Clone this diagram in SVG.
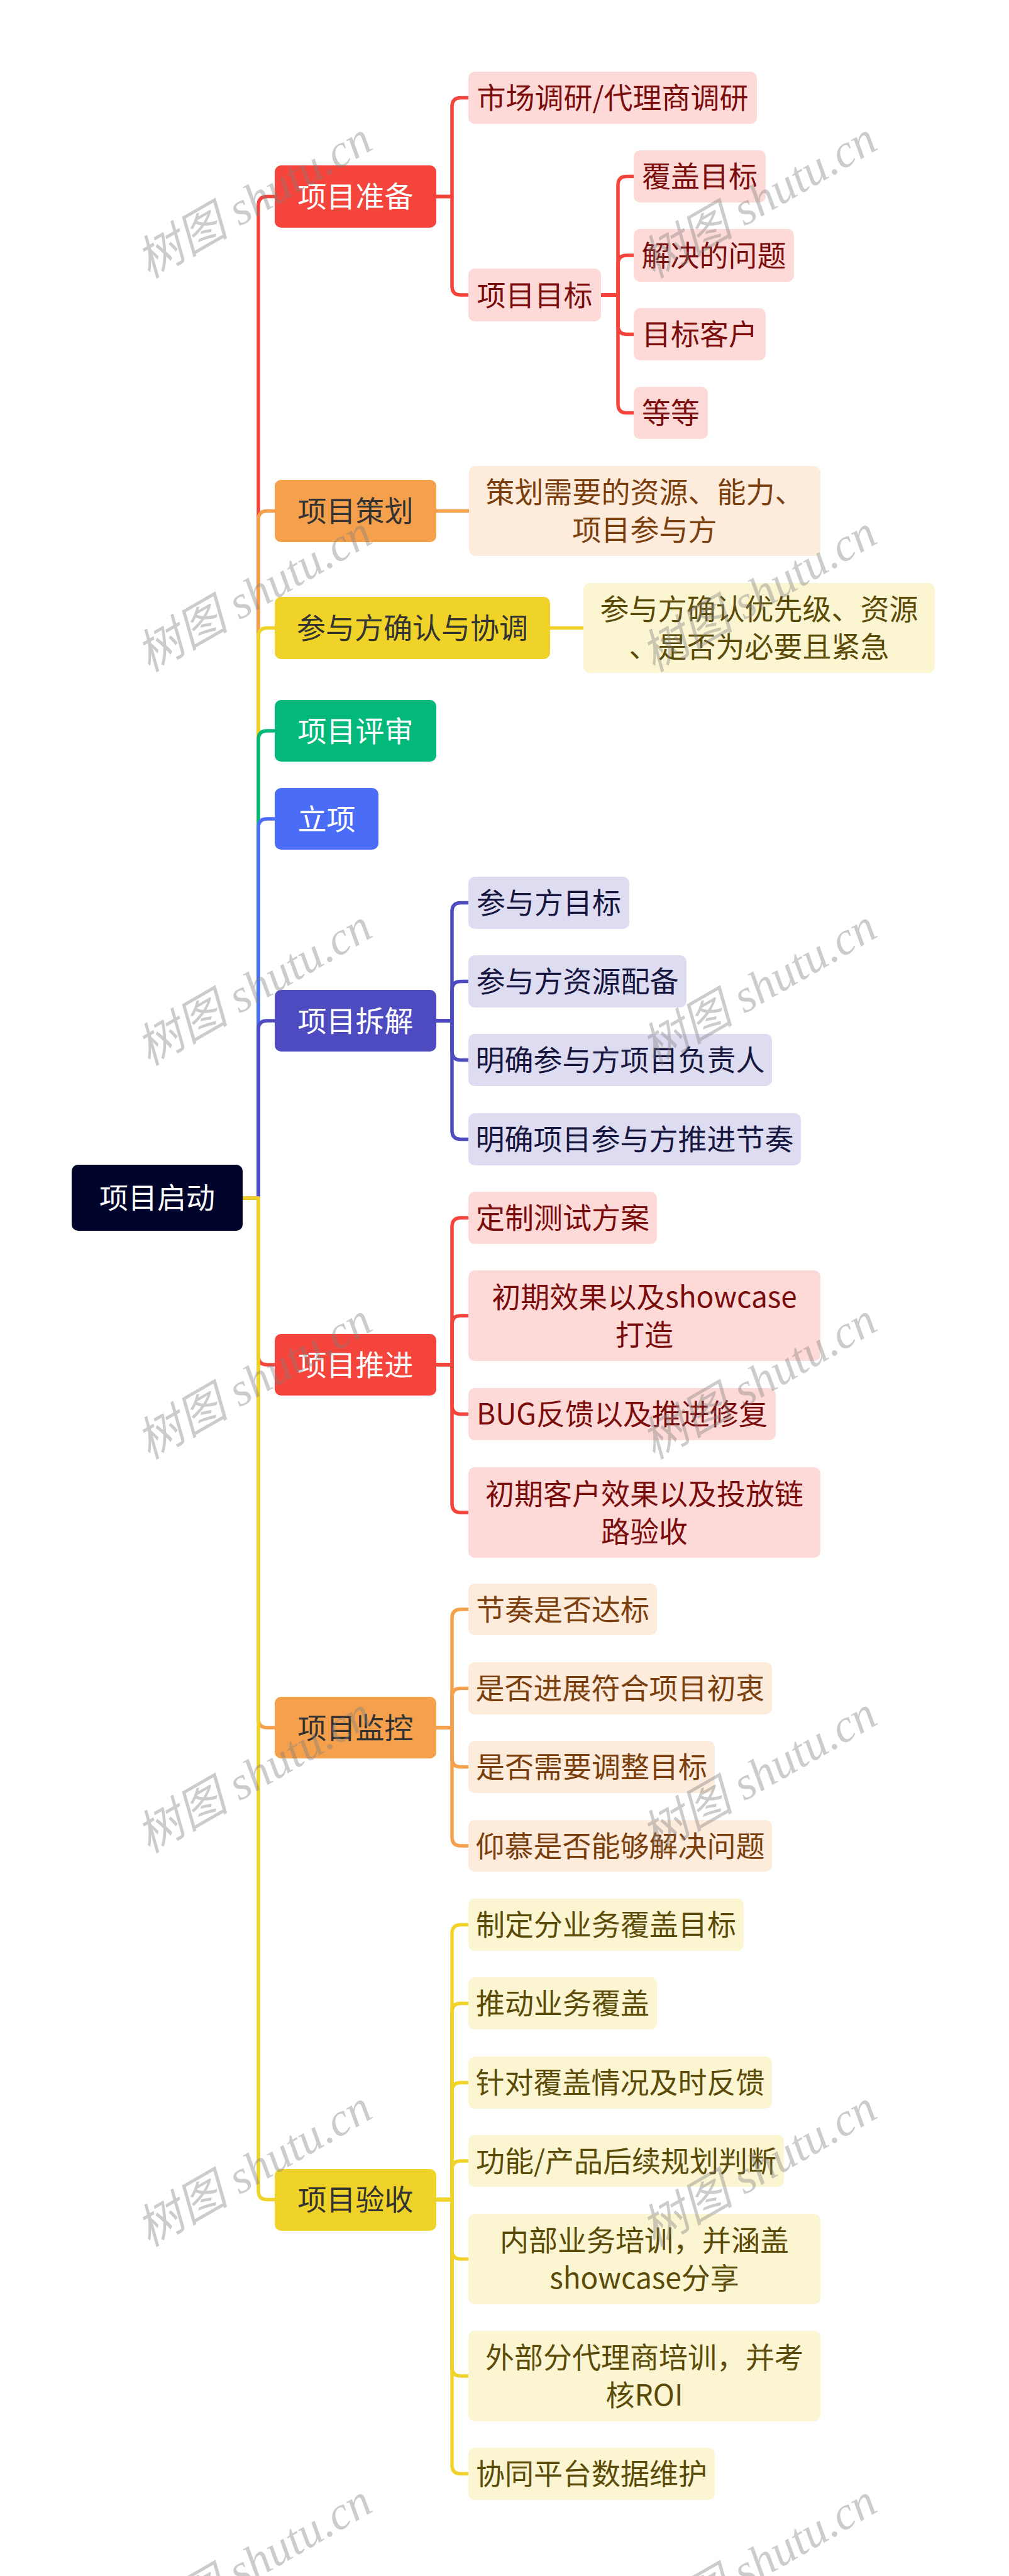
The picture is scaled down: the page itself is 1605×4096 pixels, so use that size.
<svg xmlns="http://www.w3.org/2000/svg" width="1605" height="4096" viewBox="0 0 1605 4096">
<style>
.t{font-family:"Noto Sans CJK SC","Noto Sans",sans-serif;font-size:46px;text-anchor:middle}
.w{fill:#fff}.dk{fill:#333333}
.lr{fill:#7b0c0c}.lo{fill:#7a3f0d}.ly{fill:#5b4b08}.li{fill:#17163f}
.c{fill:none;stroke-width:5.5;stroke-linecap:round;stroke-linejoin:round}
.cr{stroke:#f5443b}.co{stroke:#f4a04c}.cy{stroke:#f0d328}.cg{stroke:#02b97b}.cb{stroke:#4a6cf7}.ci{stroke:#4d4bbf}
.nr{fill:#f5443b}.no{fill:#f4a04c}.ny{fill:#f0d328}.ng{fill:#02b97b}.nb{fill:#4a6cf7}.ni{fill:#4d4bbf}
.pr{fill:#fddad8}.po{fill:#fdebdc}.py{fill:#fbf5d2}.pi{fill:#dedcf1}
.wm{font-family:"Liberation Serif","Noto Sans CJK SC",serif;font-style:italic;font-size:74px;fill:#808080;fill-opacity:0.4;text-anchor:middle}
</style>
<rect width="1605" height="4096" fill="#fff"/>
<g id="connectors">
<path class="c cr" d="M386 1905H411V326.5Q411 312.5 425 312.5H440"/>
<path class="c co" d="M386 1905H411V826.5Q411 812.5 425 812.5H440"/>
<path class="c cy" d="M386 1905H411V1012.5Q411 998.5 425 998.5H440"/>
<path class="c cg" d="M386 1905H411V1176Q411 1162 425 1162H440"/>
<path class="c cb" d="M386 1905H411V1316Q411 1302 425 1302H440"/>
<path class="c ci" d="M386 1905H411V1637Q411 1623 425 1623H440"/>
<path class="c cr" d="M386 1905H411V2156Q411 2170 425 2170H440"/>
<path class="c co" d="M386 1905H411V2733Q411 2747 425 2747H440"/>
<path class="c cy" d="M386 1905H411V3483.5Q411 3497.5 425 3497.5H440"/>
<path class="c cr" d="M694 312.5H719V169.5Q719 155.5 733 155.5H748"/>
<path class="c cr" d="M694 312.5H719V455Q719 469 733 469H748"/>
<path class="c cr" d="M956 469H983V294.5Q983 280.5 997 280.5H1011"/>
<path class="c cr" d="M956 469H983V420Q983 406 997 406H1011"/>
<path class="c cr" d="M956 469H983V517.5Q983 531.5 997 531.5H1011"/>
<path class="c cr" d="M956 469H983V642.5Q983 656.5 997 656.5H1011"/>
<path class="c co" d="M694 812.5H749"/>
<path class="c cy" d="M875 998.5H931"/>
<path class="c ci" d="M694 1623H719V1449.5Q719 1435.5 733 1435.5H748"/>
<path class="c ci" d="M694 1623H719V1574.5Q719 1560.5 733 1560.5H748"/>
<path class="c ci" d="M694 1623H719V1671.5Q719 1685.5 733 1685.5H748"/>
<path class="c ci" d="M694 1623H719V1797.5Q719 1811.5 733 1811.5H748"/>
<path class="c cr" d="M694 2170H719V1950.5Q719 1936.5 733 1936.5H748"/>
<path class="c cr" d="M694 2170H719V2106Q719 2092 733 2092H748"/>
<path class="c cr" d="M694 2170H719V2234.5Q719 2248.5 733 2248.5H748"/>
<path class="c cr" d="M694 2170H719V2391Q719 2405 733 2405H748"/>
<path class="c co" d="M694 2747H719V2573Q719 2559 733 2559H748"/>
<path class="c co" d="M694 2747H719V2698.5Q719 2684.5 733 2684.5H748"/>
<path class="c co" d="M694 2747H719V2795.5Q719 2809.5 733 2809.5H748"/>
<path class="c co" d="M694 2747H719V2921Q719 2935 733 2935H748"/>
<path class="c cy" d="M694 3497.5H719V3074.5Q719 3060.5 733 3060.5H748"/>
<path class="c cy" d="M694 3497.5H719V3199.5Q719 3185.5 733 3185.5H748"/>
<path class="c cy" d="M694 3497.5H719V3325.5Q719 3311.5 733 3311.5H748"/>
<path class="c cy" d="M694 3497.5H719V3450Q719 3436 733 3436H748"/>
<path class="c cy" d="M694 3497.5H719V3578Q719 3592 733 3592H748"/>
<path class="c cy" d="M694 3497.5H719V3764Q719 3778 733 3778H748"/>
<path class="c cy" d="M694 3497.5H719V3919.5Q719 3933.5 733 3933.5H748"/>
</g>

<g id="root"><rect x="114" y="1852" width="272" height="105" rx="10" fill="#00032a"/><text class="t w" x="250" y="1921">项目启动</text></g>

<g id="n-zhunbei"><rect class="nr" x="437" y="263" width="257" height="99" rx="10"/><text class="t w" x="565.5" y="329">项目准备</text></g>
<g id="n-shichang"><rect class="pr" x="745" y="114" width="459" height="83" rx="10"/><text class="t lr" x="974.5" y="172">市场调研/代理商调研</text></g>
<g id="n-mubiao"><rect class="pr" x="745" y="427" width="211" height="84" rx="10"/><text class="t lr" x="850.5" y="485.5">项目目标</text></g>
<g id="n-fugai"><rect class="pr" x="1008" y="239" width="210" height="83" rx="10"/><text class="t lr" x="1113" y="297">覆盖目标</text></g>
<g id="n-jiejue"><rect class="pr" x="1008" y="364" width="255" height="84" rx="10"/><text class="t lr" x="1135.5" y="422.5">解决的问题</text></g>
<g id="n-kehu"><rect class="pr" x="1008" y="490" width="210" height="83" rx="10"/><text class="t lr" x="1113" y="548">目标客户</text></g>
<g id="n-dengdeng"><rect class="pr" x="1008" y="615" width="118" height="83" rx="10"/><text class="t lr" x="1067" y="673">等等</text></g>

<g id="n-cehua"><rect class="no" x="437" y="763" width="257" height="99" rx="10"/><text class="t dk" x="565.5" y="829">项目策划</text></g>
<g id="n-cehua-1"><rect class="po" x="746" y="741" width="559" height="143" rx="10"/><text class="t lo" x="1025.5" y="799">策划需要的资源、能力、</text><text class="t lo" x="1025.5" y="859">项目参与方</text></g>

<g id="n-canyu"><rect class="ny" x="437" y="949" width="438" height="99" rx="10"/><text class="t dk" x="656" y="1015">参与方确认与协调</text></g>
<g id="n-canyu-1"><rect class="py" x="928" y="927" width="559" height="143" rx="10"/><text class="t ly" x="1207.5" y="985">参与方确认优先级、资源</text><text class="t ly" x="1207.5" y="1045">、是否为必要且紧急</text></g>

<g id="n-pingshen"><rect class="ng" x="437" y="1113" width="257" height="98" rx="10"/><text class="t w" x="565.5" y="1178.5">项目评审</text></g>
<g id="n-lixiang"><rect class="nb" x="437" y="1253" width="165" height="98" rx="10"/><text class="t w" x="519.5" y="1318.5">立项</text></g>

<g id="n-chaijie"><rect class="ni" x="437" y="1574" width="257" height="98" rx="10"/><text class="t w" x="565.5" y="1639.5">项目拆解</text></g>
<g id="n-cj1"><rect class="pi" x="745" y="1394" width="256" height="83" rx="10"/><text class="t li" x="873" y="1452">参与方目标</text></g>
<g id="n-cj2"><rect class="pi" x="745" y="1519" width="347" height="83" rx="10"/><text class="t li" x="918.5" y="1577">参与方资源配备</text></g>
<g id="n-cj3"><rect class="pi" x="745" y="1644" width="483" height="83" rx="10"/><text class="t li" x="986.5" y="1702">明确参与方项目负责人</text></g>
<g id="n-cj4"><rect class="pi" x="745" y="1770" width="529" height="83" rx="10"/><text class="t li" x="1009.5" y="1828">明确项目参与方推进节奏</text></g>

<g id="n-tuijin"><rect class="nr" x="437" y="2121" width="257" height="98" rx="10"/><text class="t w" x="565.5" y="2186.5">项目推进</text></g>
<g id="n-tj1"><rect class="pr" x="745" y="1895" width="300" height="83" rx="10"/><text class="t lr" x="895" y="1953">定制测试方案</text></g>
<g id="n-tj2"><rect class="pr" x="745" y="2020" width="560" height="144" rx="10"/><text class="t lr" x="1025" y="2078.5">初期效果以及showcase</text><text class="t lr" x="1025" y="2138.5">打造</text></g>
<g id="n-tj3"><rect class="pr" x="745" y="2207" width="489" height="83" rx="10"/><text class="t lr" x="989.5" y="2265">BUG反馈以及推进修复</text></g>
<g id="n-tj4"><rect class="pr" x="745" y="2333" width="560" height="144" rx="10"/><text class="t lr" x="1025" y="2391.5">初期客户效果以及投放链</text><text class="t lr" x="1025" y="2451.5">路验收</text></g>

<g id="n-jiankong"><rect class="no" x="437" y="2698" width="257" height="98" rx="10"/><text class="t dk" x="565.5" y="2763.5">项目监控</text></g>
<g id="n-jk1"><rect class="po" x="745" y="2518" width="300" height="82" rx="10"/><text class="t lo" x="895" y="2575.5">节奏是否达标</text></g>
<g id="n-jk2"><rect class="po" x="745" y="2643" width="483" height="83" rx="10"/><text class="t lo" x="986.5" y="2701">是否进展符合项目初衷</text></g>
<g id="n-jk3"><rect class="po" x="745" y="2768" width="392" height="83" rx="10"/><text class="t lo" x="941" y="2826">是否需要调整目标</text></g>
<g id="n-jk4"><rect class="po" x="745" y="2894" width="483" height="82" rx="10"/><text class="t lo" x="986.5" y="2951.5">仰慕是否能够解决问题</text></g>

<g id="n-yanshou"><rect class="ny" x="437" y="3449" width="257" height="98" rx="10"/><text class="t dk" x="565.5" y="3514">项目验收</text></g>
<g id="n-ys1"><rect class="py" x="745" y="3019" width="438" height="83" rx="10"/><text class="t ly" x="964" y="3077">制定分业务覆盖目标</text></g>
<g id="n-ys2"><rect class="py" x="745" y="3144" width="300" height="83" rx="10"/><text class="t ly" x="895" y="3202">推动业务覆盖</text></g>
<g id="n-ys3"><rect class="py" x="745" y="3270" width="483" height="83" rx="10"/><text class="t ly" x="986.5" y="3328">针对覆盖情况及时反馈</text></g>
<g id="n-ys4"><rect class="py" x="745" y="3395" width="502" height="82" rx="10"/><text class="t ly" x="996" y="3452.5">功能/产品后续规划判断</text></g>
<g id="n-ys5"><rect class="py" x="745" y="3520" width="560" height="144" rx="10"/><text class="t ly" x="1025" y="3578.5">内部业务培训，并涵盖</text><text class="t ly" x="1025" y="3638.5">showcase分享</text></g>
<g id="n-ys6"><rect class="py" x="745" y="3706" width="560" height="144" rx="10"/><text class="t ly" x="1025" y="3764.5">外部分代理商培训，并考</text><text class="t ly" x="1025" y="3824.5">核ROI</text></g>
<g id="n-ys7"><rect class="py" x="745" y="3892" width="392" height="83" rx="10"/><text class="t ly" x="941" y="3950">协同平台数据维护</text></g>

<g id="watermarks">
<text class="wm" x="404" y="343" transform="rotate(-30 404 318)">树图 shutu.cn</text>
<text class="wm" x="1207" y="343" transform="rotate(-30 1207 318)">树图 shutu.cn</text>
<text class="wm" x="404" y="969" transform="rotate(-30 404 944)">树图 shutu.cn</text>
<text class="wm" x="1207" y="969" transform="rotate(-30 1207 944)">树图 shutu.cn</text>
<text class="wm" x="404" y="1595" transform="rotate(-30 404 1570)">树图 shutu.cn</text>
<text class="wm" x="1207" y="1595" transform="rotate(-30 1207 1570)">树图 shutu.cn</text>
<text class="wm" x="404" y="2221" transform="rotate(-30 404 2196)">树图 shutu.cn</text>
<text class="wm" x="1207" y="2221" transform="rotate(-30 1207 2196)">树图 shutu.cn</text>
<text class="wm" x="404" y="2847" transform="rotate(-30 404 2822)">树图 shutu.cn</text>
<text class="wm" x="1207" y="2847" transform="rotate(-30 1207 2822)">树图 shutu.cn</text>
<text class="wm" x="404" y="3473" transform="rotate(-30 404 3448)">树图 shutu.cn</text>
<text class="wm" x="1207" y="3473" transform="rotate(-30 1207 3448)">树图 shutu.cn</text>
<text class="wm" x="404" y="4099" transform="rotate(-30 404 4074)">树图 shutu.cn</text>
<text class="wm" x="1207" y="4099" transform="rotate(-30 1207 4074)">树图 shutu.cn</text>
</g>
</svg>
